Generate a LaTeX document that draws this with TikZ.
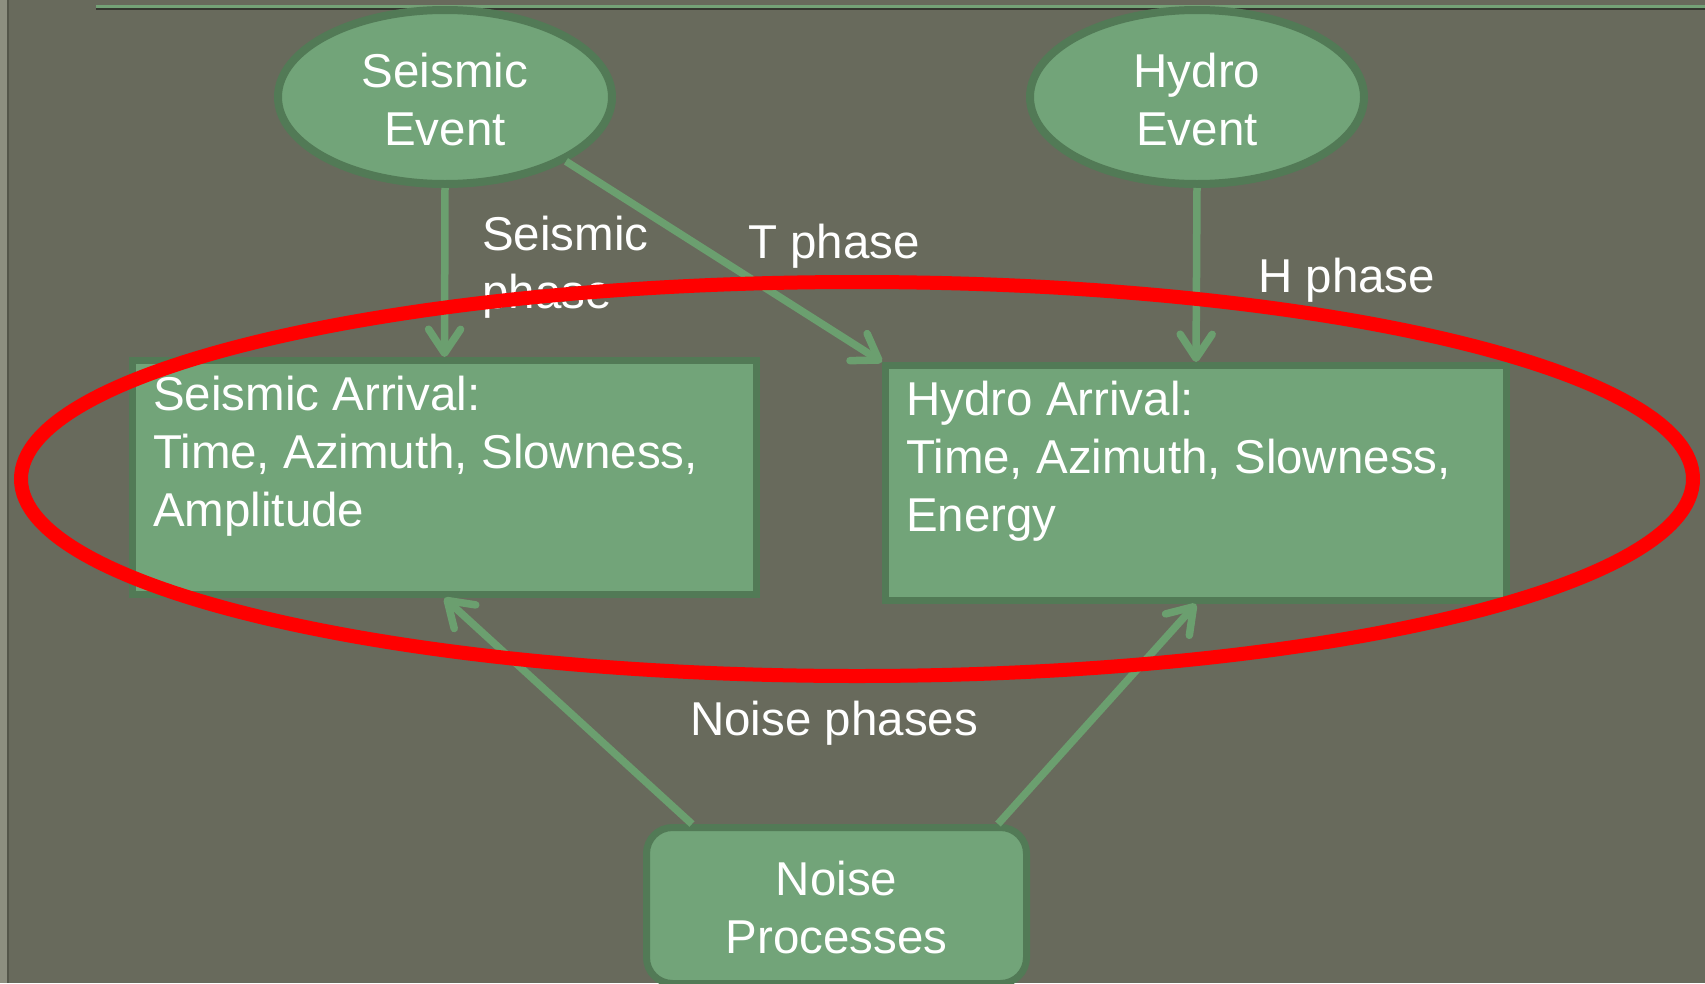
\documentclass[tikz,border=0pt]{standalone}
\usepackage{fontspec}
\setmainfont{Liberation Sans}
\usetikzlibrary{shapes.geometric,arrows.meta,calc}
\definecolor{slate}{HTML}{686A5C}
\definecolor{edgestrip}{HTML}{8D8F80}
\definecolor{edgeshade}{HTML}{54564A}
\definecolor{rulegreen}{HTML}{74A277}
\definecolor{ruleshade}{HTML}{34362F}
\definecolor{nodefill}{HTML}{72A479}
\definecolor{nodeedge}{HTML}{527A56}
\definecolor{linkgreen}{HTML}{6B9F6F}
\definecolor{ringred}{HTML}{FF0000}
\begin{document}
\begin{tikzpicture}[x=1pt,y=-1pt,
  bigtext/.style={text=white, font=\fontsize{47.5}{58}\selectfont},
  label/.style={bigtext, inner sep=0pt},
  event/.style={ellipse, draw=nodeedge, fill=nodefill, line width=8pt,
    minimum width=334pt, minimum height=174pt, inner sep=0pt},
  arrivalbox/.style={rectangle, draw=nodeedge, fill=nodefill, line width=7pt,
    inner sep=0pt},
  noisebox/.style={rectangle, rounded corners=26pt, draw=nodeedge, fill=nodefill,
    line width=7pt, inner sep=0pt, minimum width=380pt, minimum height=156pt},
  conn/.style={draw=linkgreen, line width=7.5pt,
    -{Straight Barb[length=24pt,width=32pt,round]}},
]
\useasboundingbox (0,0) rectangle (1705,983);
\clip (0,0) rectangle (1705,983);

% slide background, side strip and top rule
\fill[slate] (0,0) rectangle (1705,983);
\fill[edgestrip] (0,0) rectangle (7,983);
\fill[edgeshade] (7,0) rectangle (9,983);
\fill[rulegreen] (96,4.5) rectangle (1705,7.5);
\fill[ruleshade] (96,7.5) rectangle (1705,10);

% event sources
\node[event] (se) at (445,97) {};
\node[label, align=center] (setext) at (445,99.5) {Seismic\\Event};
\node[event] (he) at (1197,97) {};
\node[label, align=center] (hetext) at (1197,99.5) {Hydro\\Event};

% arrival boxes
\node[arrivalbox, minimum width=624pt, minimum height=234pt] (sa) at (444.5,477.5) {};
\node[label, anchor=north west, align=left] (satext) at (153,376)
  {Seismic Arrival:\\Time, Azimuth, Slowness,\\Amplitude};
\node[arrivalbox, minimum width=621pt, minimum height=235pt] (ha) at (1196,483) {};
\node[label, anchor=north west, align=left] (hatext) at (906,381)
  {Hydro Arrival:\\Time, Azimuth, Slowness,\\Energy};

% noise source
\node[noisebox] (np) at (836.5,905.5) {};
\node[label, align=center] (nptext) at (836.5,908) {Noise\\Processes};
\coordinate (nl) at ([xshift=-144.5pt]np.north);
\coordinate (nr) at ([xshift=161.5pt]np.north);

% phase connectors
\draw[conn] (se.south) -- (sa.north);
\draw[conn] (se.-28) -- (ha.north west);
\draw[conn] (he.south) -- (ha.north);
\draw[conn] (nl) -- (sa.south);
\draw[conn] (nr) -- (ha.south);

% connector labels
\node[label, anchor=north west, align=left] (lseis) at (482,216) {Seismic\\phase};
\node[label, anchor=base west] (ltph) at (748,258) {T phase};
\node[label, anchor=base west] (lhph) at (1258,292) {H phase};
\node[label, anchor=base west] (lnoise) at (690,735) {Noise phases};

% highlight ring around the arrivals
\draw[ringred, line width=14pt] (857,479) ellipse [x radius=836pt, y radius=197pt];
\end{tikzpicture}
\end{document}
